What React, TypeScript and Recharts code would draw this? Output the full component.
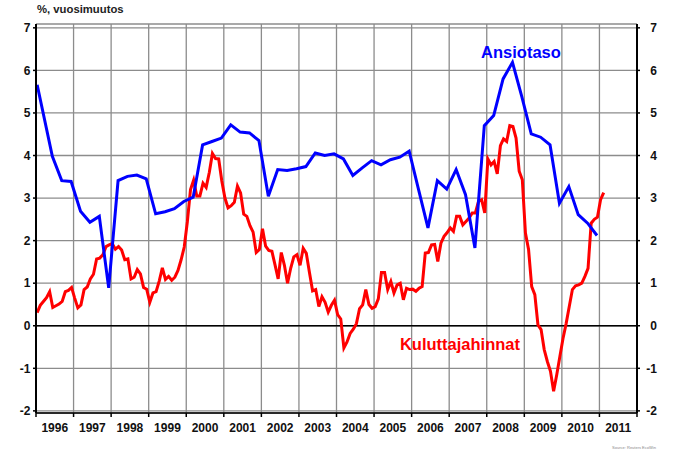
import { LineChart, Line, XAxis, YAxis, CartesianGrid, ReferenceLine } from 'recharts';

const FONT = "'Liberation Sans', Arial, sans-serif";

const yTicks = [-2, -1, 0, 1, 2, 3, 4, 5, 6, 7];
const yearLines = [1996, 1997, 1998, 1999, 2000, 2001, 2002, 2003, 2004, 2005, 2006, 2007, 2008, 2009, 2010, 2011, 2012];

// kuluttajahinnat, monthly from Jan 1996
const kuluttajahinnat = [
  0.31, 0.48, 0.57, 0.66, 0.8, 0.43, 0.47, 0.51, 0.57, 0.8, 0.83, 0.9,
  0.65, 0.42, 0.49, 0.85, 0.91, 1.1, 1.21, 1.57, 1.59, 1.67, 1.86, 1.9,
  1.93, 1.8, 1.86, 1.78, 1.55, 1.57, 1.1, 1.14, 1.32, 1.22, 0.9, 0.86,
  0.55, 0.77, 0.8, 1.05, 1.36, 1.09, 1.16, 1.07, 1.14, 1.3, 1.55, 1.85,
  2.45, 3.2, 3.42, 3.05, 3.05, 3.35, 3.25, 3.6, 4.05, 3.93, 3.92, 3.4,
  3.0, 2.77, 2.82, 2.9, 3.28, 3.12, 2.62, 2.57, 2.35, 2.2, 1.72, 1.79,
  2.28, 1.87, 1.77, 1.75, 1.43, 1.1, 1.72, 1.42, 1.0, 1.35, 1.62, 1.67,
  1.42, 1.82, 1.7, 1.25, 0.82, 0.85, 0.45, 0.68, 0.55, 0.32, 0.48, 0.6,
  0.26, 0.16, -0.52, -0.38, -0.18, -0.08, 0.05, 0.4, 0.49, 0.85, 0.5, 0.41,
  0.45, 0.63, 1.25, 1.25, 0.85, 1.04, 0.77, 0.96, 1.0, 0.61, 0.88, 0.85,
  0.86, 0.81, 0.88, 0.92, 1.71, 1.72, 1.9, 1.91, 1.51, 1.94, 2.1, 2.19,
  2.3, 2.22, 2.57, 2.57, 2.37, 2.45, 2.53, 2.65, 2.65, 2.92, 2.96, 2.65,
  3.92, 3.78, 3.86, 3.57, 4.23, 4.39, 4.33, 4.7, 4.68, 4.41, 3.63, 3.43,
  2.18, 1.79, 0.92, 0.73, 0.02, -0.09, -0.56, -0.84, -1.07, -1.54, -1.15, -0.72,
  -0.3, 0.05, 0.45, 0.85, 0.94, 0.96, 1.0, 1.16, 1.35, 2.41, 2.5, 2.55,
  2.96, 3.13,
];

// ansiotaso, quarterly (first value is the opening point of 1996)
const ansiotaso = [
  5.66,
  3.98, 3.41, 3.39, 2.69, 2.43, 2.57, 0.89, 3.41,
  3.51, 3.54, 3.45, 2.63, 2.68, 2.75, 2.92, 3.02,
  4.25, 4.33, 4.41, 4.72, 4.55, 4.53, 4.35, 3.04,
  3.67, 3.65, 3.69, 3.74, 4.06, 4.0, 4.04, 3.92,
  3.53, 3.71, 3.88, 3.78, 3.9, 3.96, 4.1, 3.2,
  2.3, 3.41, 3.21, 3.67, 3.08, 1.83, 4.7, 4.94,
  5.8, 6.19, 5.38, 4.51, 4.43, 4.25, 2.88, 3.27,
  2.61, 2.41, 2.12,
];

type Row = { x: number; red?: number; blue?: number };
const rows: Row[] = [
  ...kuluttajahinnat.map((v, i) => ({ x: 1996.03 + i / 12, red: v })),
  ...ansiotaso.map((v, i) => ({ x: i === 0 ? 1996.031 : 1996.435 + (i - 1) * 0.25, blue: v })),
].sort((a, b) => a.x - b.x);

const tickStyle = { fill: '#111', fontSize: 12, fontWeight: 700, fontFamily: FONT };

// half a year in pixels (plot width 601 / 16 years / 2)
const HALF_YEAR = 18.78;

const YearTick = ({ x, y, payload }: any) =>
  payload.value < 2012 ? (
    <text x={x + HALF_YEAR} y={y + 15.3} textAnchor='middle' {...tickStyle}>
      {payload.value}
    </text>
  ) : (
    <g />
  );

const RightTick = ({ x, y, payload }: any) => (
  <text x={x + 17} y={y} dy={4.3} textAnchor='end' {...tickStyle}>
    {payload.value}
  </text>
);

export default function App() {
  return (
    <div style={{ position: 'absolute', left: 0, top: 0, width: 682, height: 450, background: '#fff' }}>
      <LineChart width={682} height={450} data={rows} margin={{ top: 24, right: 5, bottom: 6, left: 6 }}>
        <XAxis
          xAxisId='top'
          orientation='top'
          type='number'
          dataKey='x'
          domain={[1996, 2012]}
          allowDataOverflow
          height={0}
          tick={false}
          tickLine={false}
          axisLine={{ stroke: '#000', strokeWidth: 1.5 }}
        />
        <XAxis
          xAxisId='main'
          type='number'
          dataKey='x'
          domain={[1996, 2012]}
          allowDataOverflow
          ticks={yearLines}
          interval={0}
          height={31}
          tickSize={4}
          tickMargin={0}
          tick={YearTick}
          tickLine={{ stroke: '#000', strokeWidth: 1.5 }}
          axisLine={{ stroke: '#000', strokeWidth: 1.5 }}
        />
        <YAxis
          yAxisId='left'
          type='number'
          domain={[-2.05, 7.09]}
          allowDataOverflow
          ticks={yTicks}
          interval={0}
          width={30}
          tickSize={3}
          tickMargin={2.5}
          axisLine={{ stroke: '#000', strokeWidth: 2 }}
          tickLine={{ stroke: '#000', strokeWidth: 1.5 }}
          tick={tickStyle}
        />
        <YAxis
          yAxisId='right'
          orientation='right'
          type='number'
          domain={[-2.05, 7.09]}
          allowDataOverflow
          ticks={yTicks}
          interval={0}
          width={40}
          tickSize={3}
          tickMargin={0}
          axisLine={{ stroke: '#000', strokeWidth: 2 }}
          tickLine={{ stroke: '#000', strokeWidth: 1.5 }}
          tick={RightTick}
        />
        <CartesianGrid xAxisId='main' yAxisId='left' stroke='#8c8c8c' strokeWidth={1.3} />
        <ReferenceLine xAxisId='main' yAxisId='left' y={0} stroke='#000' strokeWidth={1.3} />
        <Line
          xAxisId='main'
          yAxisId='left'
          dataKey='red'
          type='linear'
          connectNulls
          stroke='#ff0000'
          strokeWidth={3}
          dot={false}
          isAnimationActive={false}
        />
        <Line
          xAxisId='main'
          yAxisId='left'
          dataKey='blue'
          type='linear'
          connectNulls
          stroke='#0000ff'
          strokeWidth={3}
          dot={false}
          isAnimationActive={false}
        />
      </LineChart>
      <svg width={682} height={450} style={{ position: 'absolute', left: 0, top: 0, pointerEvents: 'none' }}>
        <text x={37} y={13} fontSize={11.3} fontWeight={700} fill='#222' fontFamily={FONT}>
          %, vuosimuutos
        </text>
        <text x={521} y={58.3} textAnchor='middle' fontSize={16.5} fontWeight={700} fill='#0000ff' fontFamily={FONT}>
          Ansiotaso
        </text>
        <text x={460} y={350} textAnchor='middle' fontSize={16.5} fontWeight={700} fill='#ff0000' fontFamily={FONT}>
          Kuluttajahinnat
        </text>
        <text x={634} y={449} textAnchor='middle' fontSize={4} fill='#888' fontFamily={FONT}>
          Source: Reuters EcoWin
        </text>
      </svg>
    </div>
  );
}
